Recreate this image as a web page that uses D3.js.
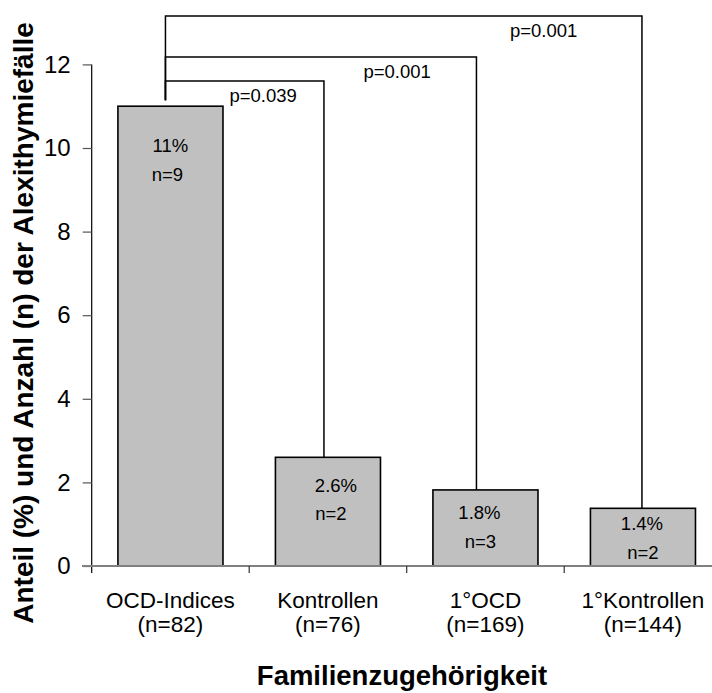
<!DOCTYPE html>
<html>
<head>
<meta charset="utf-8">
<script src="https://cdn.jsdelivr.net/npm/d3@7"></script>
<style>
  html, body { margin: 0; padding: 0; background: #fff; }
  svg { display: block; font-family: "Liberation Sans", Arial, sans-serif; }
</style>
</head>
<body>
<svg id="chart" width="712" height="693"></svg>
<script>
// ---- data ----
const categories = ["OCD-Indices", "Kontrollen", "1°OCD", "1°Kontrollen"];
const groupSizes = ["(n=82)", "(n=76)", "(n=169)", "(n=144)"];
const values = [11.0, 2.6, 1.82, 1.38];
const percentLabels = ["11%", "2.6%", "1.8%", "1.4%"];
const countLabels = ["n=9", "n=2", "n=3", "n=2"];
const yTicks = [0, 2, 4, 6, 8, 10, 12];
const pFrom = [0, 0, 0];
const pTo = [1, 2, 3];
const pLevels = [11.6, 12.18, 13.16];
const pLabels = ["p=0.039", "p=0.001", "p=0.001"];
const yTitle = "Anteil (%) und Anzahl (n) der Alexithymiefälle";
const xTitle = "Familienzugehörigkeit";

// ---- layout (positions/styles, not data) ----
const legDx = [-5, -4, -9, -1];               // bracket leg offsets from bar centre
const pctDx = [0, 8, -6, -1], cntDx = [-3, 3, -5, 0];   // in-bar label offsets
const pctDy = [46, 35, 29, 22], cntDy = [75, 63, 58, 51]; // below bar top
const pLabelPos = [{dx: 64, dy: 21}, {dx: -113, dy: 21}, {dx: -132, dy: 21}];

const svg = d3.select("#chart");
const x = d3.scaleBand().domain(categories).range([91.7, 721.7])
  .paddingInner(0.333).paddingOuter(0.1665);
const y = d3.scaleLinear().domain([0, 12]).range([566, 64.4]);

// y axis
const yAxis = svg.append("g").attr("transform", "translate(91.7,0)")
  .call(d3.axisLeft(y).tickValues(yTicks).tickSize(9).tickPadding(12).tickFormat(d3.format("d")));
yAxis.select(".domain").attr("stroke", "#000").attr("stroke-width", 1.2).attr("d", `M0,${y(12)}V${y(0) + 7}`);
yAxis.selectAll(".tick line").attr("stroke", "#555").attr("stroke-width", 1.2);
yAxis.selectAll(".tick text").attr("font-size", 24).attr("fill", "#000")
  .attr("font-family", "Liberation Sans, Arial, sans-serif");

// bars
const cx = (i) => x(categories[i]) + x.bandwidth() / 2;
svg.append("g").selectAll("rect").data(values).join("rect")
  .attr("x", (d, i) => x(categories[i]))
  .attr("y", d => y(d))
  .attr("width", x.bandwidth())
  .attr("height", d => y(0) - y(d))
  .attr("fill", "#C0C0C0").attr("stroke", "#000").attr("stroke-width", 1.6);

// x axis baseline and category ticks
svg.append("line").attr("x1", 82).attr("x2", 712).attr("y1", y(0)).attr("y2", y(0))
  .attr("stroke", "#808080").attr("stroke-width", 2);
const boundaries = d3.range(categories.length + 1).map(i => x.range()[0] + i * x.step());
svg.append("g").selectAll("line").data(boundaries.slice(1)).join("line")
  .attr("x1", d => d).attr("x2", d => d).attr("y1", y(0)).attr("y2", y(0) + 7)
  .attr("stroke", "#333").attr("stroke-width", 1.2);

// in-bar labels
const lbl = svg.append("g").attr("font-size", 18.5).attr("text-anchor", "middle").attr("fill", "#000");
values.forEach((v, i) => {
  lbl.append("text").attr("x", cx(i) + pctDx[i]).attr("y", y(v) + pctDy[i]).text(percentLabels[i]);
  lbl.append("text").attr("x", cx(i) + cntDx[i]).attr("y", y(v) + cntDy[i]).text(countLabels[i]);
});

// significance brackets
const br = svg.append("g");
pLevels.forEach((lev, k) => {
  const a = pFrom[k], b = pTo[k];
  const xa = cx(a) + legDx[a], xb = cx(b) + legDx[b];
  br.append("path")
    .attr("d", `M${xa},${y(values[a]) - 6}V${y(lev)}H${xb}V${y(values[b])}`)
    .attr("fill", "none").attr("stroke", "#000").attr("stroke-width", 1.5);
  const anchorX = k === 0 ? xa : xb;
  br.append("text").attr("x", anchorX + pLabelPos[k].dx).attr("y", y(lev) + pLabelPos[k].dy)
    .attr("font-size", 18.5).attr("fill", "#000").text(pLabels[k]);
});

// category labels
const cl = svg.append("g").attr("font-size", 22.5).attr("text-anchor", "middle").attr("fill", "#000");
categories.forEach((c, i) => {
  const t = cl.append("text").attr("x", cx(i)).attr("y", 607.7);
  t.append("tspan").attr("x", cx(i)).text(c);
  t.append("tspan").attr("x", cx(i)).attr("dy", 24.5).text(groupSizes[i]);
});

// axis titles
svg.append("text").attr("x", 402).attr("y", 685).attr("text-anchor", "middle")
  .attr("font-size", 27.5).attr("font-weight", "bold").text(xTitle);
svg.append("text").attr("transform", "translate(33,323) rotate(-90)").attr("text-anchor", "middle")
  .attr("font-size", 28).attr("font-weight", "bold").text(yTitle);
</script>
</body>
</html>
